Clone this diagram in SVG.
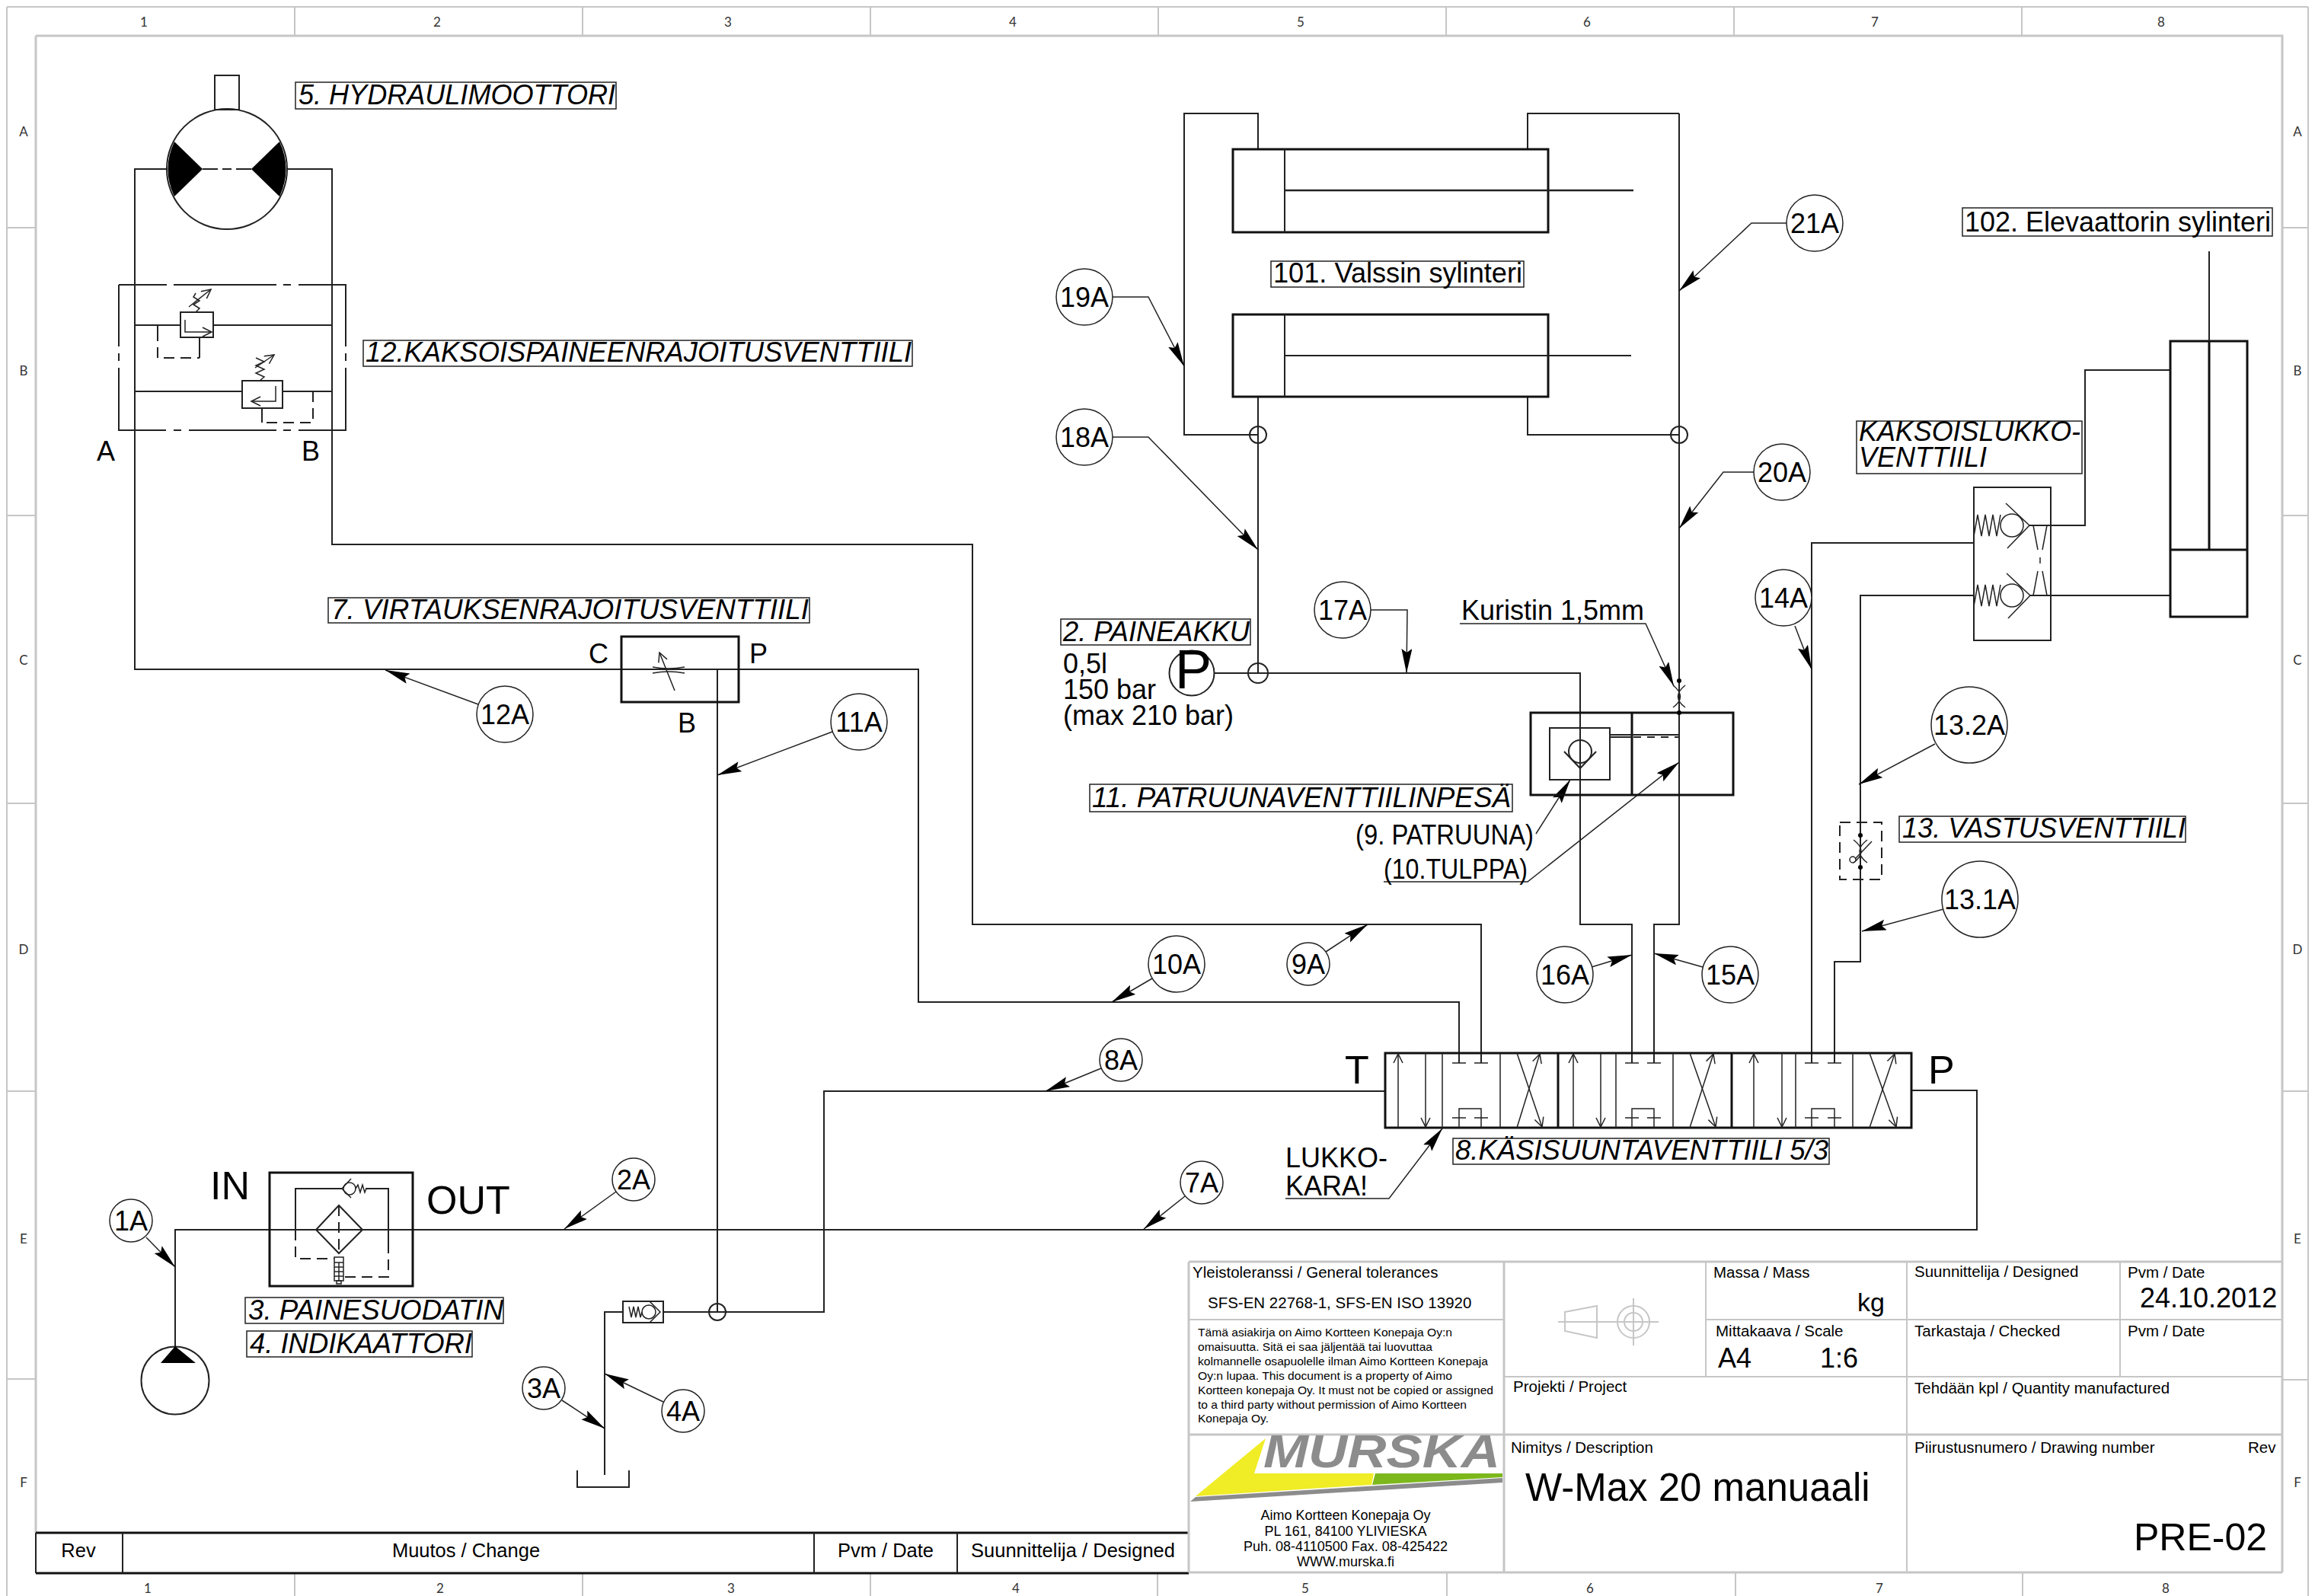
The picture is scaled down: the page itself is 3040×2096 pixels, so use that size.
<svg xmlns="http://www.w3.org/2000/svg" width="3040" height="2096" viewBox="0 0 3040 2096">
<style>
text{font-family:"Liberation Sans",Arial,sans-serif;fill:#000}
.l{fill:none;stroke:#222;stroke-width:2}
.h{fill:none;stroke:#111;stroke-width:3}
.t{fill:none;stroke:#222;stroke-width:1.5}
.d{fill:none;stroke:#222;stroke-width:2;stroke-dasharray:14 8}
.g{fill:none;stroke:#c6c6c6;stroke-width:2}
.gh{fill:none;stroke:#c6c6c6;stroke-width:3}
.k{fill:#000;stroke:none}
.lb{fill:#fff;stroke:#222;stroke-width:1.5}
.i{font-size:36px;font-style:italic}
.n{font-size:36px}
.b{font-size:52px}
.s{font-size:20.5px}
.xs{font-size:15px}
.ad{font-size:18px;text-anchor:middle}
.tk{font-family:Lato,"Liberation Sans",sans-serif;font-size:17px;fill:#333;text-anchor:middle}
.c{text-anchor:middle}
.rv{font-size:25.5px;text-anchor:middle}
.ball{fill:#fff;stroke:#222;stroke-width:1.5}
.lead{fill:none;stroke:#222;stroke-width:1.5;marker-end:url(#a)}
.a2{fill:none;stroke:#222;stroke-width:1.5;marker-end:url(#o)}
</style>
<defs>
<marker id="a" markerUnits="userSpaceOnUse" markerWidth="34" markerHeight="16" refX="32" refY="7" orient="auto"><path d="M0 0L32 7L0 14L5 7Z" fill="#000"/></marker>
<marker id="o" markerUnits="userSpaceOnUse" markerWidth="16" markerHeight="14" refX="13" refY="7" orient="auto"><path d="M1 1L13 7L1 13" fill="none" stroke="#222" stroke-width="1.5"/></marker>
</defs>

<g id="frame">
<path class="g" d="M9 9H3031M9 9V2096M3031 9V2096"/>
<path class="gh" d="M47 47H2997V2065M47 47V2013"/>
<path class="g" d="M387 9V47M765 9V47M1143 9V47M1521 9V47M1899 9V47M2277 9V47M2655 9V47M387 2066V2096M765 2066V2096M1143 2066V2096M1520 2066V2096M1900 2066V2096M2279 2066V2096M2656 2066V2096M9 299H47M9 677H47M9 1055H47M9 1433H47M9 1811H47M2997 299H3031M2997 677H3031M2997 1055H3031M2997 1433H3031M2997 1812H3031"/>
<text class="tk" x="189" y="35">1</text><text class="tk" x="574" y="35">2</text><text class="tk" x="956" y="35">3</text><text class="tk" x="1330" y="35">4</text><text class="tk" x="1708" y="35">5</text><text class="tk" x="2084" y="35">6</text><text class="tk" x="2462" y="35">7</text><text class="tk" x="2838" y="35">8</text>
<text class="tk" x="194" y="2092">1</text><text class="tk" x="578" y="2092">2</text><text class="tk" x="960" y="2092">3</text><text class="tk" x="1334" y="2092">4</text><text class="tk" x="1714" y="2092">5</text><text class="tk" x="2088" y="2092">6</text><text class="tk" x="2468" y="2092">7</text><text class="tk" x="2844" y="2092">8</text>
<text class="tk" x="31" y="179">A</text><text class="tk" x="31" y="493">B</text><text class="tk" x="31" y="873">C</text><text class="tk" x="31" y="1253">D</text><text class="tk" x="31" y="1633">E</text><text class="tk" x="31" y="1953">F</text>
<text class="tk" x="3017" y="179">A</text><text class="tk" x="3017" y="493">B</text><text class="tk" x="3017" y="873">C</text><text class="tk" x="3017" y="1253">D</text><text class="tk" x="3017" y="1633">E</text><text class="tk" x="3017" y="1953">F</text>
</g>

<g id="connectors">
<path class="l" d="M219 222H177V879H816M970 879H1206V1316H1916V1396"/>
<path class="l" d="M816 879H970"/>
<path class="l" d="M377 222H436V715H1277V1214H1945V1396"/>
<path class="l" d="M942 879V1723"/>
<path class="l" d="M794 1937V1723H818M871 1723H1082V1433H1819"/>
<path class="l" d="M230 1768V1615H2596V1432H2510"/>
<path class="l" d="M1595 884H2075V1214H2143V1396"/>
<path class="l" d="M2205 149V1214H2172V1396"/>
<path class="l" d="M1652 196V149H1555V571H1652M1652 521V884"/>
<path class="l" d="M2006 196V149H2205M2006 521V571H2205"/>
<path class="l" d="M2379 1396V713H2592"/>
<path class="l" d="M2409 1396V1263H2443V782H2592"/>
<path class="l" d="M2665 690H2738V486H2850"/>
<path class="l" d="M2666 782H2850"/>
<circle class="l" cx="1652" cy="571" r="11"/><circle class="l" cx="2205" cy="571" r="11"/><circle class="l" cx="1652" cy="884" r="13"/><circle class="l" cx="942" cy="1723" r="11"/>
<polyline class="lead" points="1461,390 1508,390 1555,481"/>
<polyline class="lead" points="1461,574 1508,574 1652,722"/>
<polyline class="lead" points="1800,801 1848,801 1847,884"/>
<polyline class="lead" points="2346,293 2300,293 2205,382"/>
<polyline class="lead" points="2303,620 2263,620 2205,694"/>
<polyline class="lead" points="2357,822 2379,879"/>
<polyline class="lead" points="2541,977 2441,1030"/>
<polyline class="lead" points="2552,1194 2445,1223"/>
<polyline class="lead" points="192,1625 230,1664"/>
<polyline class="lead" points="809,1565 741,1614"/>
<polyline class="lead" points="1556,1571 1502,1614"/>
<polyline class="lead" points="1446,1403 1373,1433"/>
<polyline class="lead" points="1741,1250 1796,1214"/>
<polyline class="lead" points="1513,1285 1460,1316"/>
<polyline class="lead" points="1093,961 942,1018"/>
<polyline class="lead" points="628,925 506,880"/>
<polyline class="lead" points="2236,1270 2172,1252"/>
<polyline class="lead" points="2090,1270 2143,1254"/>
<polyline class="lead" points="738,1839 794,1876"/>
<polyline class="lead" points="871,1841 794,1804"/>
<polyline class="lead" points="1917,819 2161,819 2198,901"/>
<polyline class="lead" points="2017,1095 2062,1024"/>
<polyline class="lead" points="1817,1158 2006,1158 2205,1001"/>
<polyline class="lead" points="1688,1574 1824,1574 1894,1482"/>
</g>

<g id="motor">
<rect class="l" x="282" y="99" width="32" height="45"/>
<circle class="l" cx="298" cy="222" r="79"/>
<path class="k" d="M266 222L229 186Q212 222 229 258Z"/>
<path class="k" d="M330 222L367 186Q384 222 367 258Z"/>
<path class="l" d="M266 222H286M292 222H304M310 222H330"/>
<rect class="lb" x="388" y="108" width="421" height="35"/>
<text class="i" x="392" y="137" textLength="416" lengthAdjust="spacingAndGlyphs">5. HYDRAULIMOOTTORI</text>
</g>

<g id="double-relief-valve">
<path class="l" d="M156 374H219M228 374H363M372 374H382M392 374H454V455M454 464V474M454 483V565H392M382 565H372M363 565H248M238 565H228M218 565H156V483M156 474V464M156 455V374"/>
<path class="l" d="M177 427H237M280 427H436M177 514H318M371 514H436M436 222V715"/>
<rect class="l" x="237" y="410" width="43" height="33"/>
<polyline class="a2" points="243,420 243,436 278,436"/>
<path class="t" d="M257 410L262 405L254 400L262 395L254 390L257 385"/>
<polyline class="a2" points="248,403 277,380"/>
<path class="l" d="M262 443V470M207 427V434"/><path class="d" d="M207 434V470H262"/>
<rect class="l" x="318" y="500" width="53" height="36"/>
<polyline class="a2" points="362,507 362,527 330,527"/>
<path class="t" d="M341 500L347 495L336 490L347 485L336 480L347 475L336 470"/>
<polyline class="a2" points="335,483 360,466"/>
<path class="l" d="M344 536V555"/><path class="d" d="M411 514V555H344"/>
<text class="n" x="127" y="605">A</text><text class="n" x="396" y="605">B</text>
<rect class="lb" x="477" y="447" width="721" height="34"/>
<text class="i" x="480" y="475" textLength="717" lengthAdjust="spacingAndGlyphs">12.KAKSOISPAINEENRAJOITUSVENTTIILI</text>
</g>

<g id="flow-valve">
<rect class="h" x="816" y="836" width="154" height="86"/>
<polyline class="a2" points="886,907 866,857"/>
<path class="t" d="M857 876Q878 880 899 876M857 884Q878 880 899 884"/>
<text class="n" x="773" y="871">C</text><text class="n" x="984" y="871">P</text><text class="n" x="890" y="962">B</text>
<rect class="lb" x="431" y="785" width="632" height="33"/>
<text class="i" x="435" y="813" textLength="627" lengthAdjust="spacingAndGlyphs">7. VIRTAUKSENRAJOITUSVENTTIILI</text>
</g>

<g id="filter">
<rect class="h" x="354" y="1540" width="188" height="149"/>
<path class="l" d="M388 1615V1561H449M480 1561H510V1632"/>
<path class="d" d="M388 1615V1653H439M510 1632V1677H451"/>
<path class="l" d="M445 1583L476 1615L445 1646L415 1615Z"/>
<path class="d" d="M445 1583V1646" stroke-dasharray="10 6"/>
<circle class="t" cx="459" cy="1561" r="8"/>
<path class="t" d="M461 1548L449 1561L461 1573M467 1561L470 1556L473 1566L476 1556L479 1566L481 1561"/>
<rect class="t" x="439" y="1651" width="12" height="31"/>
<path class="t" d="M439 1658H451M439 1664H451M439 1670H451M439 1676H451M445 1658V1682"/><rect class="t" x="442" y="1682" width="6" height="4"/>
<text class="b" x="276" y="1575">IN</text><text class="b" x="560" y="1594">OUT</text>
<rect class="lb" x="322" y="1704" width="339" height="34"/>
<text class="i" x="326" y="1733" textLength="335" lengthAdjust="spacingAndGlyphs">3. PAINESUODATIN</text>
<rect class="lb" x="324" y="1748" width="296" height="34"/>
<text class="i" x="328" y="1777" textLength="292" lengthAdjust="spacingAndGlyphs">4. INDIKAATTORI</text>
</g>

<g id="pump">
<circle class="l" cx="230" cy="1813" r="44.5"/>
<path class="k" d="M230 1768L257 1790H211Z"/>
</g>

<g id="tank-check">
<rect class="l" x="818" y="1709" width="53" height="28"/>
<path class="t" d="M826 1716L829 1730L832 1716L835 1730L838 1716L841 1730L843 1723"/>
<circle class="t" cx="852" cy="1723" r="9"/>
<path class="t" d="M853 1709L867 1723L853 1737"/>
<path class="l" d="M758 1931V1953H826V1931"/>
</g>

<g id="cylinders-101">
<rect class="h" x="1619" y="196" width="414" height="109"/><path class="l" d="M1687 196V305"/><path class="l" style="stroke-width:2.5" d="M1687 250H2145"/>
<rect class="h" x="1619" y="413" width="414" height="108"/><path class="l" d="M1687 413V521"/><path class="l" d="M1687 467H2142"/>
<rect class="lb" x="1669" y="343" width="332" height="34"/>
<text class="n" x="1672" y="371" textLength="327" lengthAdjust="spacingAndGlyphs">101. Valssin sylinteri</text>
</g>

<g id="accumulator">
<circle class="l" cx="1565" cy="884" r="29.5"/>
<text x="1543" y="904" font-size="72px">P</text>
<rect class="lb" x="1393" y="813" width="249" height="34"/>
<text class="i" x="1396" y="842" textLength="245" lengthAdjust="spacingAndGlyphs">2. PAINEAKKU</text>
<text class="n" x="1396" y="884">0,5l</text><text class="n" x="1396" y="918">150 bar</text><text class="n" x="1396" y="952">(max 210 bar)</text>
</g>

<g id="cartridge">
<rect class="h" x="2010" y="936" width="266" height="108"/><path class="h" d="M2143 936V1044"/>
<rect class="l" x="2035" y="956" width="79" height="68"/>
<circle class="l" cx="2075" cy="987" r="15"/>
<path class="l" d="M2054 987L2075 1009L2096 987"/>
<path class="l" d="M2114 965H2205M2114 968H2143"/><path class="l" d="M2145 968H2205" stroke-dasharray="10 8"/>
<circle class="k" cx="2205" cy="894" r="3"/><circle class="k" cx="2205" cy="936" r="3"/>
<path class="t" d="M2197 900Q2216 915 2197 929M2213 900Q2194 915 2213 929"/>
<text class="n" x="1919" y="814">Kuristin 1,5mm</text>
<rect class="lb" x="1431" y="1030" width="555" height="36"/>
<text class="i" x="1434" y="1060" textLength="550" lengthAdjust="spacingAndGlyphs">11. PATRUUNAVENTTIILINPESÄ</text>
<text class="n" x="1780" y="1109" textLength="234" lengthAdjust="spacingAndGlyphs">(9. PATRUUNA)</text>
<text class="n" x="1817" y="1154" textLength="189" lengthAdjust="spacingAndGlyphs">(10.TULPPA)</text>
</g>

<g id="directional-valve">
<rect class="h" x="1819" y="1383" width="691" height="98"/>
<path class="h" d="M2046 1383V1481M2274 1383V1481"/>
<path class="t" d="M1894 1383V1481M1970 1383V1481M2122 1383V1481M2197 1383V1481M2358 1383V1481M2433 1383V1481"/>
<path class="t" d="M1907 1396H1925M1936 1396H1954M2134 1396H2152M2163 1396H2181M2370 1396H2388M2400 1396H2418M1907 1468H1925M1936 1468H1954M2134 1468H2152M2163 1468H2181M2370 1468H2388M2400 1468H2418"/>
<path class="t" d="M1916 1481V1456H1945V1481M2143 1481V1456H2172V1481M2379 1481V1456H2409V1481"/>
<path class="a2" d="M1836 1481V1384"/><path class="a2" d="M1872 1383V1480"/><path class="a2" d="M1992 1481L2022 1384"/><path class="a2" d="M1992 1383L2025 1480"/>
<path class="a2" d="M2066 1481V1384"/><path class="a2" d="M2102 1383V1480"/><path class="a2" d="M2219 1481L2250 1384"/><path class="a2" d="M2219 1383L2253 1480"/>
<path class="a2" d="M2303 1481V1384"/><path class="a2" d="M2340 1383V1480"/><path class="a2" d="M2455 1481L2488 1384"/><path class="a2" d="M2455 1383L2490 1480"/>
<text class="b" x="1766" y="1423">T</text><text class="b" x="2532" y="1423">P</text>
<text class="n" x="1688" y="1533">LUKKO-</text><text class="n" x="1688" y="1570">KARA!</text>
<rect class="lb" x="1908" y="1495" width="494" height="34"/>
<text class="i" x="1911" y="1523" textLength="490" lengthAdjust="spacingAndGlyphs">8.KÄSISUUNTAVENTTIILI 5/3</text>
</g>

<g id="double-check-valve">
<rect class="l" x="2592" y="640" width="101" height="201"/>
<path class="t" d="M2592 704L2597 676L2602 704L2607 676L2612 704L2617 676L2622 704L2627 676"/>
<path class="t" d="M2592 796L2597 768L2602 796L2607 768L2612 796L2617 768L2622 796L2627 768"/>
<ellipse class="t" cx="2642" cy="690" rx="15" ry="15"/><ellipse class="t" cx="2642" cy="782" rx="15" ry="15"/>
<path class="t" d="M2634 661L2665 690L2636 720M2635 753L2666 782L2637 812"/>
<path class="t" d="M2670 690L2676 722M2688 690L2682 722M2670 782L2676 750M2688 782L2682 750M2679 732V740"/>
<rect class="lb" x="2438" y="553" width="296" height="69"/>
<text class="i" x="2441" y="579" textLength="291" lengthAdjust="spacingAndGlyphs">KAKSOISLUKKO-</text>
<text class="i" x="2441" y="613">VENTTIILI</text>
</g>

<g id="cylinder-102">
<rect class="h" x="2850" y="448" width="101" height="362"/><path class="h" d="M2850 722H2951"/>
<path class="h" d="M2901 448V722"/><path class="l" d="M2901 330V448"/>
<rect class="lb" x="2577" y="273" width="407" height="37"/>
<text class="n" x="2580" y="304" textLength="402" lengthAdjust="spacingAndGlyphs">102. Elevaattorin sylinteri</text>
</g>

<g id="throttle-check">
<path class="d" d="M2416 1080H2471V1155H2416V1080" stroke-dasharray="12 8"/>
<circle class="k" cx="2443" cy="1097" r="3"/><circle class="k" cx="2443" cy="1139" r="3"/>
<path class="t" d="M2434 1103Q2454 1118 2434 1133M2452 1103Q2432 1118 2452 1133"/>
<path class="t" d="M2458 1105L2436 1128"/><circle class="t" cx="2433" cy="1129" r="4"/>
<rect class="lb" x="2494" y="1072" width="376" height="34"/>
<text class="i" x="2498" y="1100" textLength="372" lengthAdjust="spacingAndGlyphs">13. VASTUSVENTTIILI</text>
</g>

<g id="balloons">
<g id="b-1A"><circle class="ball" cx="172" cy="1603" r="28"/><text class="n c" x="172" y="1616">1A</text></g>
<g id="b-2A"><circle class="ball" cx="832" cy="1549" r="28"/><text class="n c" x="832" y="1562">2A</text></g>
<g id="b-3A"><circle class="ball" cx="714" cy="1823" r="28"/><text class="n c" x="714" y="1836">3A</text></g>
<g id="b-4A"><circle class="ball" cx="897" cy="1853" r="28"/><text class="n c" x="897" y="1866">4A</text></g>
<g id="b-7A"><circle class="ball" cx="1578" cy="1553" r="28"/><text class="n c" x="1578" y="1566">7A</text></g>
<g id="b-8A"><circle class="ball" cx="1472" cy="1392" r="28"/><text class="n c" x="1472" y="1405">8A</text></g>
<g id="b-9A"><circle class="ball" cx="1718" cy="1266" r="28"/><text class="n c" x="1718" y="1279">9A</text></g>
<g id="b-10A"><circle class="ball" cx="1545" cy="1266" r="37"/><text class="n c" x="1545" y="1279">10A</text></g>
<g id="b-11A"><circle class="ball" cx="1128" cy="948" r="37"/><text class="n c" x="1128" y="961">11A</text></g>
<g id="b-12A"><circle class="ball" cx="663" cy="938" r="37"/><text class="n c" x="663" y="951">12A</text></g>
<g id="b-13-1A"><circle class="ball" cx="2600" cy="1181" r="50"/><text class="n c" x="2600" y="1194">13.1A</text></g>
<g id="b-13-2A"><circle class="ball" cx="2586" cy="952" r="50"/><text class="n c" x="2586" y="965">13.2A</text></g>
<g id="b-14A"><circle class="ball" cx="2342" cy="785" r="37"/><text class="n c" x="2342" y="798">14A</text></g>
<g id="b-15A"><circle class="ball" cx="2272" cy="1280" r="37"/><text class="n c" x="2272" y="1293">15A</text></g>
<g id="b-16A"><circle class="ball" cx="2055" cy="1280" r="37"/><text class="n c" x="2055" y="1293">16A</text></g>
<g id="b-17A"><circle class="ball" cx="1763" cy="801" r="37"/><text class="n c" x="1763" y="814">17A</text></g>
<g id="b-18A"><circle class="ball" cx="1424" cy="574" r="37"/><text class="n c" x="1424" y="587">18A</text></g>
<g id="b-19A"><circle class="ball" cx="1424" cy="390" r="37"/><text class="n c" x="1424" y="403">19A</text></g>
<g id="b-20A"><circle class="ball" cx="2340" cy="620" r="37"/><text class="n c" x="2340" y="633">20A</text></g>
<g id="b-21A"><circle class="ball" cx="2383" cy="293" r="37"/><text class="n c" x="2383" y="306">21A</text></g>
</g>

<g id="revision-table">
<path class="h" d="M47 2013H1561M47 2066H1561"/>
<path class="l" d="M47 2013V2066M161 2013V2066M1069 2013V2066M1257 2013V2066M1561 2013V2066"/>
<text class="rv" x="103" y="2045">Rev</text>
<text class="rv" x="612" y="2045">Muutos / Change</text>
<text class="rv" x="1163" y="2045">Pvm / Date</text>
<text class="rv" x="1409" y="2045">Suunnittelija / Designed</text>
</g>

<g id="title-block">
<path class="gh" d="M1561 1657H2997M1561 1884H2997M1561 2065H2997M1561 1657V2065M1975 1657V2065"/>
<path class="g" d="M1561 1733H1975M2240 1733H2997M1975 1808H2997M2240 1657V1808M2504 1657V2065M2784 1657V1808"/>
<text class="s" x="1566" y="1678">Yleistoleranssi / General tolerances</text>
<text class="s" x="1586" y="1718">SFS-EN 22768-1, SFS-EN ISO 13920</text>
<text class="xs" x="1573" y="1755" textLength="334" lengthAdjust="spacingAndGlyphs">Tämä asiakirja on Aimo Kortteen Konepaja Oy:n</text>
<text class="xs" x="1573" y="1774" textLength="308" lengthAdjust="spacingAndGlyphs">omaisuutta. Sitä ei saa jäljentää tai luovuttaa</text>
<text class="xs" x="1573" y="1793" textLength="381" lengthAdjust="spacingAndGlyphs">kolmannelle osapuolelle ilman Aimo Kortteen Konepaja</text>
<text class="xs" x="1573" y="1812" textLength="334" lengthAdjust="spacingAndGlyphs">Oy:n lupaa. This document is a property of Aimo</text>
<text class="xs" x="1573" y="1831" textLength="388" lengthAdjust="spacingAndGlyphs">Kortteen konepaja Oy. It must not be copied or assigned</text>
<text class="xs" x="1573" y="1850" textLength="353" lengthAdjust="spacingAndGlyphs">to a third party without permission of Aimo Kortteen</text>
<text class="xs" x="1573" y="1868" textLength="93" lengthAdjust="spacingAndGlyphs">Konepaja Oy.</text>
<g id="logo">
<path d="M1662 1889L1647 1935H1804L1801 1950L1570 1965Z" fill="#f0ec26"/>
<path d="M1806 1935H1973V1940L1802 1950Z" fill="#7cb81c"/>
<path d="M1563 1972L1570 1966L1973 1941V1947Z" fill="#8c8c8c"/>
<text x="1659" y="1927" font-size="61" font-weight="bold" font-style="italic" style="fill:#8c8c8c" textLength="311" lengthAdjust="spacingAndGlyphs">MURSKA</text>
</g>
<text class="ad" x="1767" y="1996">Aimo Kortteen Konepaja Oy</text>
<text class="ad" x="1767" y="2017">PL 161, 84100 YLIVIESKA</text>
<text class="ad" x="1767" y="2037">Puh. 08-4110500 Fax. 08-425422</text>
<text class="ad" x="1767" y="2057">WWW.murska.fi</text>
<g id="projection-symbol"><path class="g" d="M2055 1723L2097 1715V1757L2055 1748ZM2046 1736H2178M2145 1705V1767"/><circle class="g" cx="2145" cy="1736" r="21"/><circle class="g" cx="2145" cy="1736" r="12"/></g>
<text class="s" x="2250" y="1678">Massa / Mass</text>
<text x="2439" y="1722" font-size="34">kg</text>
<text class="s" x="2514" y="1677">Suunnittelija / Designed</text>
<text class="s" x="2794" y="1678">Pvm / Date</text>
<text class="n" x="2810" y="1717">24.10.2012</text>
<text class="s" x="2253" y="1755">Mittakaava / Scale</text>
<text class="n" x="2256" y="1796">A4</text>
<text class="n" x="2390" y="1796">1:6</text>
<text class="s" x="2514" y="1755">Tarkastaja / Checked</text>
<text class="s" x="2794" y="1755">Pvm / Date</text>
<text class="s" x="1987" y="1828">Projekti / Project</text>
<text class="s" x="2514" y="1830">Tehdään kpl / Quantity manufactured</text>
<text class="s" x="1984" y="1908">Nimitys / Description</text>
<text x="2003" y="1971" font-size="51">W-Max 20 manuaali</text>
<text class="s" x="2514" y="1908">Piirustusnumero / Drawing number</text>
<text class="s" x="2952" y="1908">Rev</text>
<text x="2802" y="2036" font-size="50">PRE-02</text>
</g>
</svg>
